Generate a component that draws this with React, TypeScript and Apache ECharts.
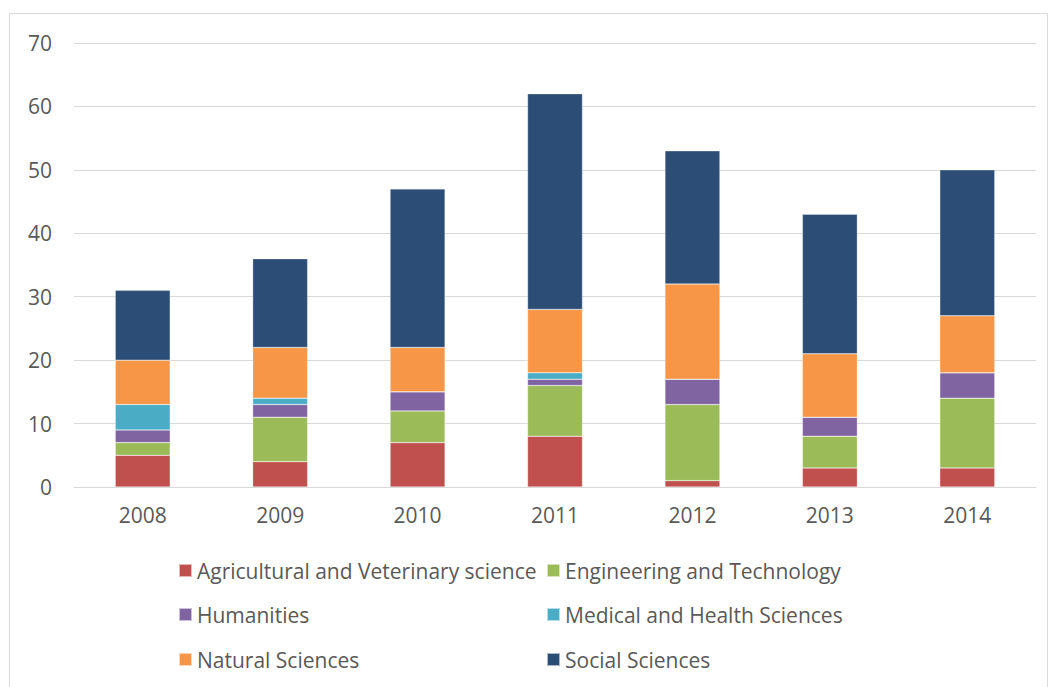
import React, { useEffect, useRef } from "react";
import * as echarts from "echarts";

const years = ["2008", "2009", "2010", "2011", "2012", "2013", "2014"];
const agricultural = [5, 4, 7, 8, 1, 3, 3];
const engineering = [2, 7, 5, 8, 12, 5, 11];
const humanities = [2, 2, 3, 1, 4, 3, 4];
const medical = [4, 1, 0, 1, 0, 0, 0];
const natural = [7, 8, 7, 10, 15, 10, 9];
const social = [11, 14, 25, 34, 21, 22, 23];

const seriesDefs = [
  { name: "Agricultural and Veterinary science", data: agricultural, color: "#c0504d" },
  { name: "Engineering and Technology", data: engineering, color: "#9bbb59" },
  { name: "Humanities", data: humanities, color: "#8064a2" },
  { name: "Medical and Health Sciences", data: medical, color: "#4bacc6" },
  { name: "Natural Sciences", data: natural, color: "#f79646" },
  { name: "Social Sciences", data: social, color: "#2c4d75" },
];

const legendPos = [
  { left: 178, top: 560 },
  { left: 546, top: 560 },
  { left: 178, top: 604 },
  { left: 546, top: 604 },
  { left: 178, top: 649 },
  { left: 546, top: 649 },
];

export default function App() {
  const ref = useRef<HTMLDivElement>(null);
  useEffect(() => {
    const chart = echarts.init(ref.current!, null, { renderer: "svg" });
    chart.setOption({
      animation: false,
      backgroundColor: "#ffffff",
      textStyle: { fontFamily: "Open Sans" },
      grid: { left: 74, right: 15, top: 43, bottom: 200, containLabel: false },
      xAxis: {
        type: "category",
        data: years,
        axisLine: { lineStyle: { color: "#d9d9d9", width: 1 } },
        axisTick: { show: false },
        axisLabel: { color: "#595959", fontSize: 21, margin: 17, fontFamily: "Open Sans" },
      },
      yAxis: {
        type: "value",
        min: 0,
        max: 70,
        interval: 10,
        axisLine: { show: false },
        axisTick: { show: false },
        splitLine: { lineStyle: { color: "#d9d9d9", width: 1 } },
        axisLabel: { color: "#595959", fontSize: 21, margin: 22, fontFamily: "Open Sans" },
      },
      legend: seriesDefs.map((s, i) => ({
        data: [s.name],
        left: legendPos[i].left,
        top: legendPos[i].top,
        itemWidth: 13,
        itemHeight: 13,
        itemGap: 0,
        padding: 0,
        icon: "rect",
        textStyle: { color: "#595959", fontSize: 21, fontFamily: "Open Sans" },
      })),
      graphic: [
        {
          type: "rect",
          shape: { x: 9.5, y: 13.5, width: 1038, height: 700 },
          style: { fill: "none", stroke: "#d9d9d9", lineWidth: 1 },
          silent: true,
          z: -10,
        },
      ],
      series: seriesDefs.map((s) => ({
        name: s.name,
        type: "bar",
        stack: "total",
        data: s.data,
        barWidth: "40%",
        itemStyle: { color: s.color, borderColor: "rgba(255,255,255,0.6)", borderWidth: 0.5 },
      })),
    });
    return () => chart.dispose();
  }, []);
  return (
    <div
      ref={ref}
      style={{ position: "absolute", left: 0, top: 0, width: 1051, height: 687 }}
    />
  );
}
